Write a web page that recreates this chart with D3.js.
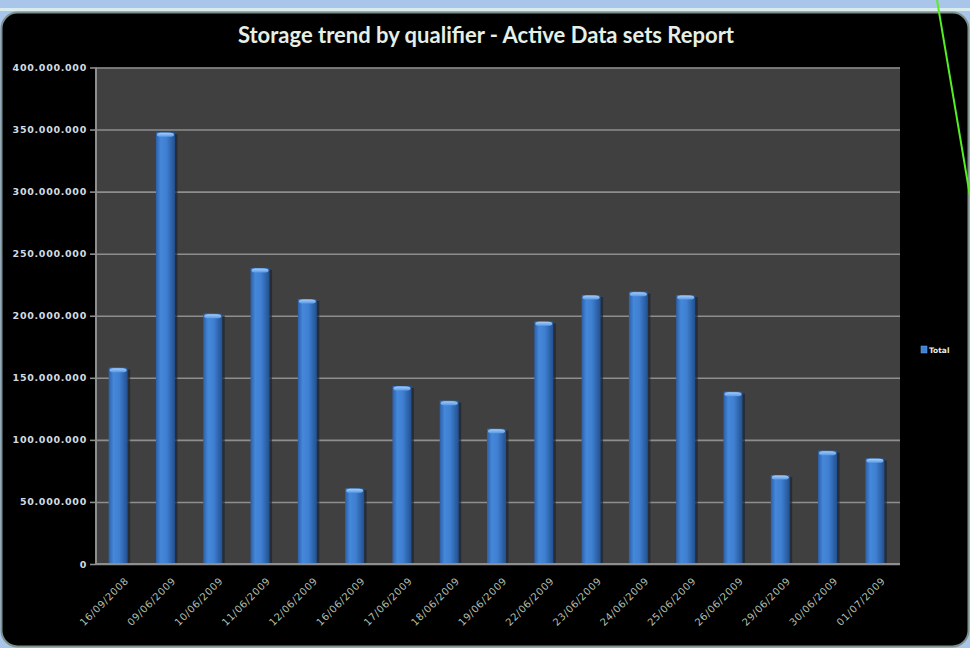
<!DOCTYPE html>
<html>
<head>
<meta charset="utf-8">
<script src="https://cdn.jsdelivr.net/npm/d3@7"></script>
<style>
  html, body { margin: 0; padding: 0; background: #a9c5e9; }
  svg { display: block; }
</style>
</head>
<body>
<svg id="chart"></svg>
<script>
// categories (dates) and totals
var dates = ["16/09/2008", "09/06/2009", "10/06/2009", "11/06/2009", "12/06/2009", "16/06/2009",
             "17/06/2009", "18/06/2009", "19/06/2009", "22/06/2009", "23/06/2009", "24/06/2009",
             "25/06/2009", "26/06/2009", "29/06/2009", "30/06/2009", "01/07/2009"];
var totals = [158200000, 347800000, 201700000, 238500000, 213500000, 61000000,
              143400000, 131600000, 109000000, 195500000, 216700000, 219400000,
              216700000, 138800000, 71700000, 91300000, 85100000];
var yTicks = [0, 50000000, 100000000, 150000000, 200000000, 250000000, 300000000, 350000000, 400000000];
var seriesName = "Total";

var width = 970, height = 648;
var plot = { left: 96, right: 900, top: 67.5, bottom: 564 };

var svg = d3.select("#chart").attr("width", width).attr("height", height);
var defs = svg.append("defs");

// bar gradient, cylinder-ish
var grad = defs.append("linearGradient").attr("id", "barGrad")
  .attr("x1", "0%").attr("x2", "100%").attr("y1", "0%").attr("y2", "0%");
grad.append("stop").attr("offset", "0%").attr("stop-color", "#2b5fa8");
grad.append("stop").attr("offset", "25%").attr("stop-color", "#4587d9");
grad.append("stop").attr("offset", "55%").attr("stop-color", "#3f80d2");
grad.append("stop").attr("offset", "100%").attr("stop-color", "#22508f");

var capGrad = defs.append("linearGradient").attr("id", "capGrad")
  .attr("x1", "0%").attr("x2", "0%").attr("y1", "0%").attr("y2", "100%");
capGrad.append("stop").attr("offset", "0%").attr("stop-color", "#a6cdf7");
capGrad.append("stop").attr("offset", "100%").attr("stop-color", "#5a9ae6");

// top strip (window chrome)
svg.append("rect").attr("x", 0).attr("y", 0).attr("width", width).attr("height", 12)
  .attr("fill", "#a9c5e9");
svg.append("rect").attr("x", 0).attr("y", 8).attr("width", width).attr("height", 3)
  .attr("fill", "#d8ecf0");

// chart area
svg.append("rect")
  .attr("x", 1.5).attr("y", 12.5).attr("width", width - 3).attr("height", height - 14)
  .attr("rx", 16).attr("ry", 16)
  .attr("fill", "#000").attr("stroke", "#7f918d").attr("stroke-width", 2);

// title
svg.append("text")
  .attr("x", 486).attr("y", 43)
  .attr("text-anchor", "middle")
  .attr("fill", "#e6efe6")
  .style("font-family", "Lato, 'Open Sans', sans-serif")
  .style("font-weight", "bold")
  .style("font-size", "22px")
  .text("Storage trend by qualifier - Active Data sets Report");

// scales
var x = d3.scaleBand().domain(dates).range([plot.left, plot.right]).paddingInner(0.6).paddingOuter(0.3);
var y = d3.scaleLinear().domain([0, 400000000]).range([plot.bottom, plot.top]);

var locale = d3.formatLocale({ decimal: ",", thousands: ".", grouping: [3], currency: ["", ""] });
var fmt = locale.format(",d");

// plot background
svg.append("rect")
  .attr("x", plot.left).attr("y", plot.top)
  .attr("width", plot.right - plot.left).attr("height", plot.bottom - plot.top)
  .attr("fill", "#404040");

// gridlines
svg.append("g")
  .attr("transform", "translate(" + plot.left + ",0)")
  .call(d3.axisLeft(y).tickValues(yTicks).tickSize(-(plot.right - plot.left)).tickFormat(""))
  .call(function(g) {
    g.select(".domain").remove();
    g.selectAll("line").attr("stroke", "#8e8e8e").attr("stroke-width", 1.6);
  });

// y axis labels
svg.append("g")
  .attr("transform", "translate(" + plot.left + ",0)")
  .call(d3.axisLeft(y).tickValues(yTicks).tickSize(6).tickPadding(3).tickFormat(fmt))
  .call(function(g) {
    g.select(".domain").remove();
    g.selectAll("line").attr("stroke", "#8e8e8e").attr("stroke-width", 1.6);
    g.selectAll("text")
      .attr("fill", "#d0dce2")
      .style("font-family", "'DejaVu Sans', sans-serif")
      .style("font-weight", "bold")
      .style("font-size", "9.5px")
      .style("letter-spacing", "0.7px");
  });

// bars
var bw = 19;
function barX(i) { return x(dates[i]) + x.bandwidth() / 2 - bw / 2 - 1.5; }
var bars = svg.append("g").selectAll("g").data(totals).enter().append("g");

bars.append("rect")
  .attr("x", function(d, i) { return barX(i) + 2.5; })
  .attr("y", function(d) { return y(d) + 2; })
  .attr("width", bw)
  .attr("height", function(d) { return y(0) - y(d) - 2; })
  .attr("fill", "#1b2530").attr("opacity", 0.7);

bars.append("rect")
  .attr("x", function(d, i) { return barX(i); })
  .attr("y", function(d) { return y(d); })
  .attr("width", bw)
  .attr("height", function(d) { return y(0) - y(d); })
  .attr("fill", "url(#barGrad)");

bars.append("rect")
  .attr("x", function(d, i) { return barX(i) + 1; })
  .attr("y", function(d) { return y(d) + 0.5; })
  .attr("width", bw - 2)
  .attr("height", 4)
  .attr("rx", 4).attr("ry", 2)
  .attr("fill", "url(#capGrad)");

// axis frame
svg.append("line")
  .attr("x1", plot.left).attr("x2", plot.left).attr("y1", plot.top).attr("y2", plot.bottom)
  .attr("stroke", "#8e8e8e").attr("stroke-width", 2);
svg.append("line")
  .attr("x1", plot.left - 1).attr("x2", plot.right).attr("y1", plot.bottom).attr("y2", plot.bottom)
  .attr("stroke", "#8e8e8e").attr("stroke-width", 2);

// x labels, rotated
svg.append("g")
  .attr("transform", "translate(0," + plot.bottom + ")")
  .call(d3.axisBottom(x).tickSize(0).tickPadding(0))
  .call(function(g) {
    g.select(".domain").remove();
    g.selectAll("text")
      .attr("text-anchor", "end")
      .attr("transform", "translate(7,15) rotate(-45)")
      .attr("dy", "0.35em")
      .attr("fill", "#b0bfb0")
      .style("font-family", "'DejaVu Sans', sans-serif")
      .style("font-size", "10px")
      .style("letter-spacing", "0.6px");
  });

// legend
var legend = svg.append("g").attr("transform", "translate(921,346)");
legend.append("rect").attr("width", 6).attr("height", 7).attr("fill", "#3f80d2")
  .attr("stroke", "#6fa6ea").attr("stroke-width", 0.5);
legend.append("text").attr("x", 8).attr("y", 6.5)
  .attr("fill", "#e6efe6")
  .style("font-family", "'DejaVu Sans', sans-serif")
  .style("font-weight", "bold")
  .style("font-size", "7.5px")
  .text(seriesName);

// stray green line from the screenshot
svg.append("line")
  .attr("x1", 937).attr("y1", 0).attr("x2", 970).attr("y2", 196)
  .attr("stroke", "#55ee22").attr("stroke-width", 2);
</script>
</body>
</html>
